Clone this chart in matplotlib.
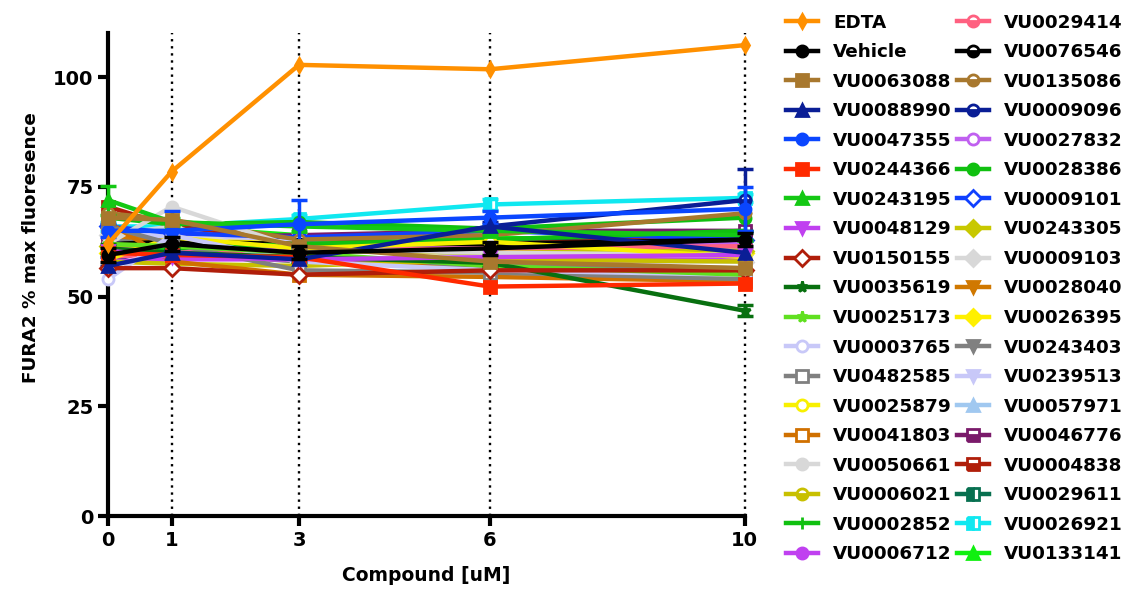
import numpy as np
import matplotlib.pyplot as plt

plt.rcParams['font.family'] = 'DejaVu Sans'
plt.rcParams['font.weight'] = 'bold'

conc = [0, 1, 3, 6, 10]

labels = ["EDTA", "Vehicle", "VU0063088", "VU0088990", "VU0047355", "VU0244366",
          "VU0243195", "VU0048129", "VU0150155", "VU0035619", "VU0025173",
          "VU0003765", "VU0482585", "VU0025879", "VU0041803", "VU0050661",
          "VU0006021", "VU0002852", "VU0006712",
          "VU0029414", "VU0076546", "VU0135086", "VU0009096", "VU0027832",
          "VU0028386", "VU0009101", "VU0243305", "VU0009103", "VU0028040",
          "VU0026395", "VU0243403", "VU0239513", "VU0057971", "VU0046776",
          "VU0004838", "VU0029611", "VU0026921", "VU0133141"]

values = [
    [62, 78.5, 102.8, 101.8, 107.3],   # EDTA
    [59.5, 62, 60, 61, 63],            # Vehicle
    [68, 67.5, 61.5, 58, 56.5],
    [57, 60, 58.5, 66, 60],
    [65, 65, 66.5, 68, 70],
    [60, 59.5, 59, 52.3, 53],
    [72, 67, 66, 65, 64],
    [60.5, 59, 58.5, 59, 59.5],
    [56.5, 56.5, 55, 56, 56],
    [61, 60, 59, 57.7, 46.8],
    [62, 61.5, 60, 57, 55],
    [54, 64, 58, 56, 55],
    [66, 62, 56, 55.5, 54],
    [58.5, 63.5, 61, 62.5, 59],
    [67, 58, 55, 54.5, 53.5],
    [62, 70.5, 61, 60, 59.5],
    [58, 57.5, 57, 58.5, 58],
    [60, 61, 62, 63, 65],
    [58, 58.5, 58.5, 58, 58.5],
    [59, 60, 60.5, 61, 61.5],
    [62, 62.5, 62, 62, 63],
    [69, 67.5, 63, 64, 69],
    [58, 62, 58.5, 66, 72],
    [61, 60, 61, 62, 62],
    [68, 66.5, 67, 65.5, 68],
    [66, 64.5, 63.5, 65, 63],
    [61.5, 62, 60.5, 60, 60.5],
    [64, 66, 58, 58, 58],
    [64, 62.5, 59.5, 55.5, 54],
    [60, 63, 62, 60.5, 60],
    [64, 60, 58, 57, 56.5],
    [65, 63.5, 63, 59, 58],
    [63, 63, 62.5, 60, 61],
    [63, 63.5, 64, 65, 65],
    [70.5, 66, 63, 62, 63.5],
    [61, 60, 61.5, 63, 64],
    [66, 66, 67.7, 71, 72.5],
    [63, 66, 64, 63.5, 62],
]

# error bars that can be seen above the markers
errors = {
    "VU0243195": [3.3, 1, 1, 1, 1],
    "VU0047355": [1.5, 4.5, 5.5, 1.5, 5],
    "VU0009096": [1, 1, 1, 1, 7],
    "VU0026921": [1, 1, 1, 1.2, 1],
    "VU0035619": [1, 1, 1, 1, 1.2],
    "Vehicle": [1.5, 1.5, 1.5, 1.5, 1.5],
}

colors = ["#ff9000", "black", "#a8782e", "#0a1e96", "#0a46ff", "#ff2a00",
          "#14c814", "#c040f0", "#b01e0a", "#087010", "#60e020", "#c8c8f8",
          "#808080", "#f8f000", "#d07000", "#d8d8d8", "#c8c000", "#10c010",
          "#c040f0",
          "#ff6080", "black", "#a8782e", "#0a1e96", "#c060f0", "#10c010",
          "#1040ff", "#c8c800", "#d8d8d8", "#d07800", "#fff000", "#808080",
          "#c8c8f8", "#a0c8f0", "#7a1a6a", "#b01e0a", "#087050", "#10e8f0",
          "#10f010"]

markers = ["d", "o", "s", "^", "o", "s", "^", "v", "D", "*", "*", "o", "s", "o",
           "s", "o", "o", "+", "o",
           "o", "o", "o", "o", "o", "o", "D", "D", "D", "v", "D", "v", "v", "^",
           "s", "s", "s", "s", "^"]

fills = ["full", "full", "full", "full", "full", "full", "full", "full", "none",
         "full", "full", "none", "none", "none", "none", "full", "bottom", "full",
         "full",
         "bottom", "bottom", "bottom", "bottom", "none", "full", "none", "full",
         "full", "full", "full", "full", "full", "full", "bottom", "bottom",
         "left", "left", "full"]

fig = plt.figure(figsize=(11.25, 5.94), dpi=100)
ax = fig.add_axes([0.096, 0.131, 0.566, 0.813])

for x in [1, 3, 6, 10]:
    ax.axvline(x, color="black", ls=(0, (1, 2)), lw=1.7, zorder=0, clip_on=False)

handles = []
for i, (lab, vals) in enumerate(zip(labels, values)):
    c = colors[i]
    z = 100 - i
    ms = 8 if markers[i] != "d" else 7
    line, = ax.plot(conc, vals, color=c, lw=3.2, marker=markers[i], ms=ms,
                    mew=2, mec=c, mfc=c, fillstyle=fills[i],
                    markerfacecoloralt="white", clip_on=False, zorder=z,
                    label=lab)
    if fills[i] == "none":
        line.set_fillstyle("full")
        line.set_markerfacecolor("white")
    if lab in errors:
        ax.errorbar(conc, vals, yerr=errors[lab], fmt="none", ecolor=c,
                    elinewidth=2.5, capsize=6, capthick=2.5, clip_on=False,
                    zorder=z)
    handles.append(line)

ax.set_xlim(0, 10)
ax.set_ylim(0, 110)
ax.set_xticks(conc)
ax.set_yticks([0, 25, 50, 75, 100])
for s in ["top", "right"]:
    ax.spines[s].set_visible(False)
for s in ["left", "bottom"]:
    ax.spines[s].set_linewidth(3)
ax.tick_params(width=3, length=7, labelsize=14)
for t in ax.get_xticklabels() + ax.get_yticklabels():
    t.set_fontweight("bold")

ax.set_xlabel("Compound [uM]", fontsize=13.5, fontweight="bold", labelpad=12)
ax.set_ylabel("FURA2 % max fluoresence", fontsize=13.2, fontweight="bold")
ax.yaxis.set_label_coords(-0.107, 0.557)

fig.legend(handles=handles, loc="upper left", bbox_to_anchor=(0.6844, 1.005),
           ncol=2, frameon=False, handlelength=1.7,
           handletextpad=0.85, columnspacing=0.3, labelspacing=0.63,
           prop={"weight": "bold", "size": 13.2})

fig.savefig("out.png", dpi=100)
